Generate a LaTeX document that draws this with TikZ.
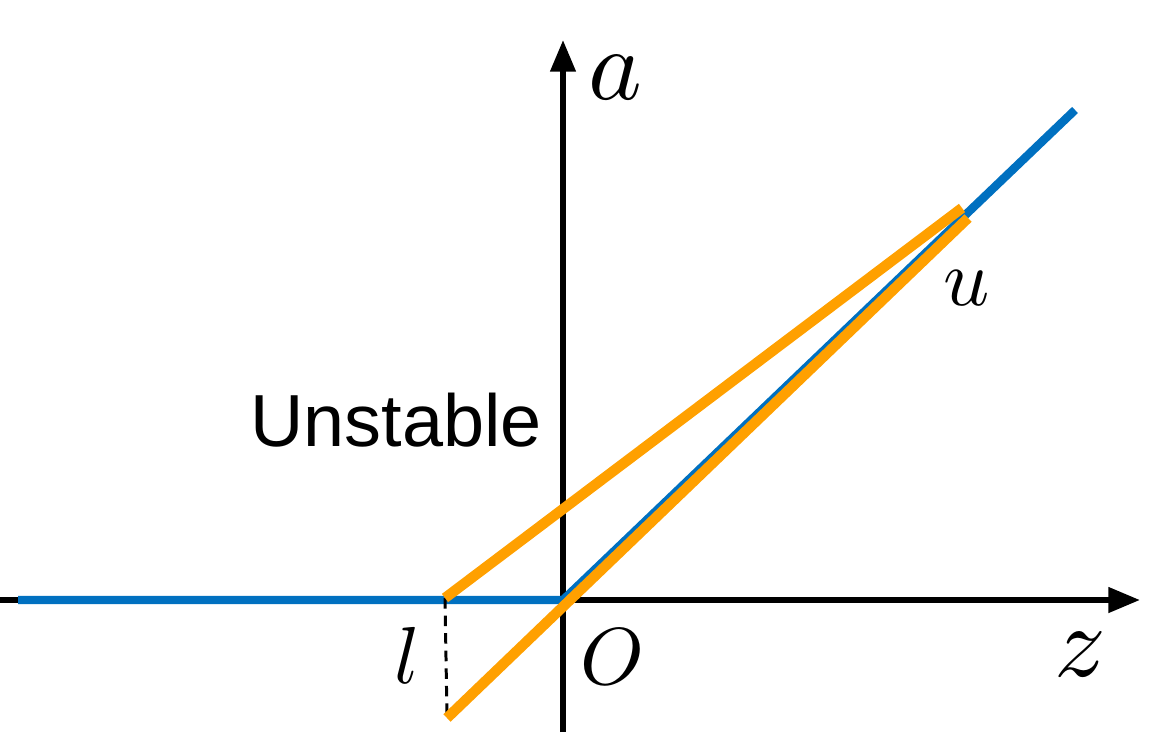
\documentclass[tikz,border=0pt]{standalone}
\usepackage{fontspec}
\setsansfont{Liberation Sans}
\usetikzlibrary{arrows.meta,positioning}
\newcommand{\biglbl}[2]{\scalebox{#1}{$#2$}}

\begin{document}
\begin{tikzpicture}[x=0.02cm,y=-0.02cm,
  axis/.style={line width=3.2pt, -{Triangle[length=18pt,width=14pt]}},
  relu/.style={line width=4.8pt, color={rgb,255:red,0;green,112;blue,192}},
  bound/.style={line width=5.9pt, color={rgb,255:red,255;green,160;blue,0}},
  lbl/.style={inner sep=0pt}]
\useasboundingbox (0,0) rectangle (1165,734);
% axes
\coordinate (xs) at (0,600);
\coordinate (xe) at (1140,600);
\coordinate (ys) at (563,732);
\coordinate (ye) at (563,40);
\draw[axis] (xs) -- (xe);
\draw[axis] (ys) -- (ye);
% relu
\coordinate (r0) at (18,600);
\coordinate (o) at (563,600);
\coordinate (r1) at (1075,110);
\draw[relu] (r0) -- (o) -- (r1);
% relaxation
\coordinate (lt) at (445,598);
\coordinate (lb) at (447,718);
\coordinate (ut) at (962,208);
\coordinate (ub) at (968,218);
\draw[line width=1.7pt, dash pattern=on 6pt off 4pt] (lt) -- (lb);
\draw[bound] (lt) -- (ut);
\draw[bound] (lb) -- (ub);
% labels
\node[lbl] (la) at (615,78) {\biglbl{5.8}{a}};
\node[lbl] (lz) at (1080,655) {\biglbl{5.8}{z}};
\node[lbl] (lo) at (612,657) {\biglbl{4.6}{O}};
\node[lbl] (ll) at (407,655) {\biglbl{4.6}{l}};
\node[lbl] (lu) at (967,288) {\biglbl{4.6}{u}};
\node[lbl, font=\sffamily\fontsize{42}{48}\selectfont] (unst) at (396,420) {Unstable};
\end{tikzpicture}
\end{document}
